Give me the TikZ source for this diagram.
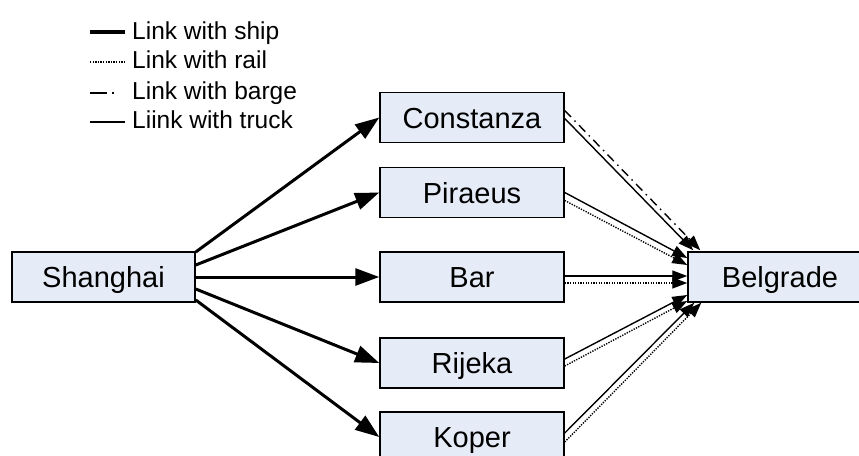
\documentclass[tikz,border=0pt]{standalone}
\usepackage{fontspec}
\setmainfont{Liberation Sans}
\usetikzlibrary{arrows.meta}
\definecolor{boxfill}{RGB}{230,236,247}
\tikzset{
  place/.style={draw=black, line width=1.5pt, fill=boxfill, minimum width=184pt, minimum height=50pt,
    inner sep=0pt, font=\fontsize{29}{30}\selectfont, text height=21pt, text depth=0pt},
  legtext/.style={anchor=base west, inner sep=0pt, font=\fontsize{24.5}{26}\selectfont},
  ship/.style={line width=3pt, -{Triangle[length=24pt,width=17pt]}},
  truck/.style={line width=1.4pt, -{Triangle[length=15pt,width=11pt]}},
  rail/.style={line width=1.4pt, dash pattern=on 1.3pt off 1.3pt, -{Triangle[length=15pt,width=11pt]}},
  barge/.style={line width=1.4pt, dash pattern=on 9pt off 5pt on 1.5pt off 5pt, -{Triangle[length=15pt,width=11pt]}},
}
\begin{document}
\begin{tikzpicture}[x=1pt,y=-1pt]
\useasboundingbox (0,0) rectangle (859,455);
% legend
\node[legtext] (l1) at (132,39) {Link with ship};
\node[legtext] (l2) at (132,68) {Link with rail};
\node[legtext] (l3) at (132,99) {Link with barge};
\node[legtext] (l4) at (132,128) {Liink with truck};
\draw[line width=3.5pt] (90,32) -- (125,32);
\draw[line width=1.3pt, dash pattern=on 1.3pt off 1.3pt] (90,62) -- (125,62);
\draw[line width=1.5pt] (90,93) -- (107,93);
\draw[line width=1.5pt] (112,93) -- (114,93);
\draw[line width=1.5pt] (90,122) -- (125,122);
% nodes
\node[place, minimum width=183pt] (sh) at (103.5,277) {Shanghai};
\node[place] (co) at (472,117.5) {Constanza};
\node[place] (pi) at (472,192.5) {Piraeus};
\node[place] (ba) at (472,277) {Bar};
\node[place] (ri) at (472,363) {Rijeka};
\node[place] (ko) at (472,437) {Koper};
\node[place] (bg) at (780,277) {Belgrade};
% ship links
\draw[ship] ([yshift=25pt]sh.east) -- (co.west);
\draw[ship] ([yshift=12pt]sh.east) -- (pi.west);
\draw[ship] (sh.east) -- (ba.west);
\draw[ship] ([yshift=-12pt]sh.east) -- (ri.west);
\draw[ship] ([yshift=-23pt]sh.east) -- (ko.west);
% Constanza
\draw[barge] ([yshift=7pt]co.east) -- ([xshift=13pt,yshift=1pt]bg.north west);
\draw[truck] ([yshift=-1pt]co.east) -- ([xshift=6pt,yshift=1pt]bg.north west);
% Piraeus
\draw[truck] (pi.east) -- ([yshift=19pt]bg.west);
\draw[rail] ([yshift=-8pt]pi.east) -- ([yshift=12pt]bg.west);
% Bar
\draw[truck] ([yshift=1pt]ba.east) -- ([yshift=1pt]bg.west);
\draw[rail] ([yshift=-6pt]ba.east) -- ([yshift=-6pt]bg.west);
% Rijeka
\draw[truck] ([yshift=4pt]ri.east) -- ([yshift=-18pt]bg.west);
\draw[rail] ([yshift=-3pt]ri.east) -- ([yshift=-24pt]bg.west);
% Koper
\draw[truck] ([yshift=4pt]ko.east) -- ([xshift=7pt]bg.south west);
\draw[rail] ([yshift=-5pt]ko.east) -- ([xshift=14pt]bg.south west);
\end{tikzpicture}
\end{document}
